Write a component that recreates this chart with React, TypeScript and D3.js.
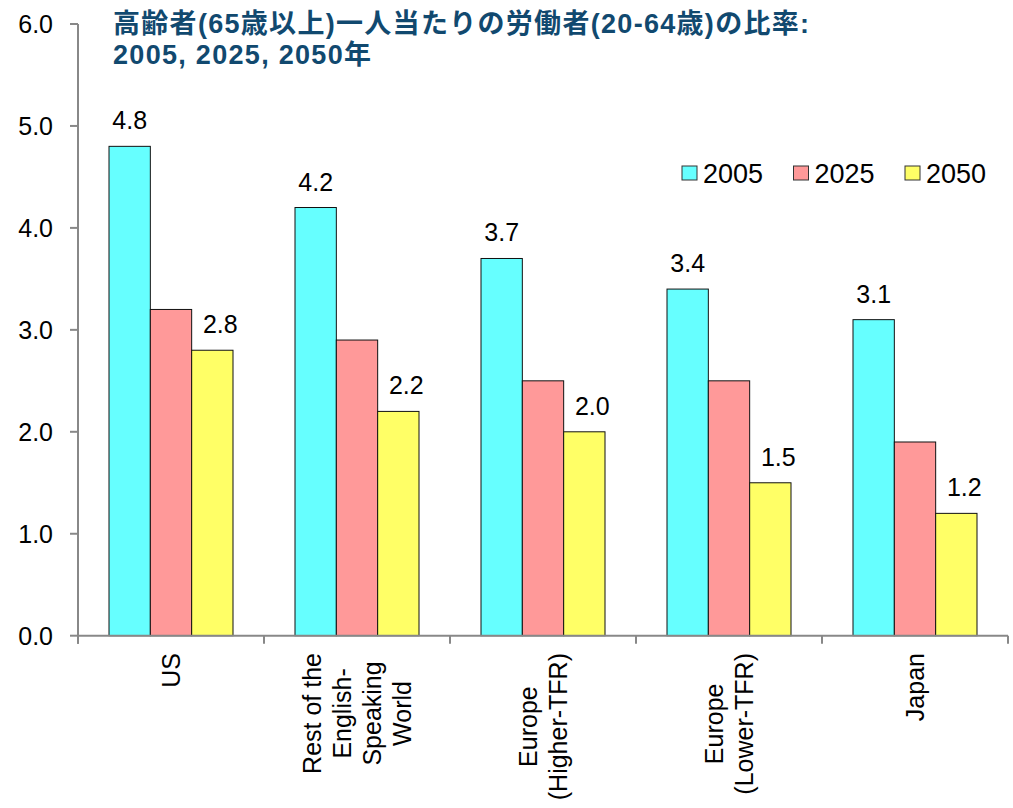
import React, { useEffect, useRef } from 'react';
import * as d3 from 'd3';

const categoryLines: string[][] = [
  ['US'],
  ['Rest of the', 'English-', 'Speaking', 'World'],
  ['Europe', '(Higher-TFR)'],
  ['Europe', '(Lower-TFR)'],
  ['Japan']
];
const seriesNames = ['2005', '2025', '2050'];
const values2005 = [4.8, 4.2, 3.7, 3.4, 3.1];
const values2025 = [3.2, 2.9, 2.5, 2.5, 1.9];
const values2050 = [2.8, 2.2, 2.0, 1.5, 1.2];
const yTicks = [0, 1, 2, 3, 4, 5, 6];
const titleLines = ['高齢者(65歳以上)一人当たりの労働者(20-64歳)の比率:', '2005, 2025, 2050年'];
const colors = ['#66FFFF', '#FF9999', '#FFFF66'];

const WIDTH = 1013;
const HEIGHT = 808;
const FONT = 'Arial, "Liberation Sans", "Noto Sans CJK JP", sans-serif';

export default function App() {
  const svgRef = useRef<SVGSVGElement>(null);

  useEffect(() => {
    const svg = d3.select(svgRef.current);
    svg.selectAll('*').remove();

    const margin = { left: 78, right: 1008, top: 24, bottom: 635.7 };
    const series = [values2005, values2025, values2050];
    const catIdx = categoryLines.map((_, i) => String(i));

    const x0 = d3.scaleBand<string>().domain(catIdx).range([margin.left, margin.right]);
    const x1 = d3.scaleBand<string>()
      .domain(seriesNames)
      .range([0, x0.bandwidth()])
      .paddingInner(0)
      .paddingOuter(0.75);
    const y = d3.scaleLinear().domain([0, 6]).range([margin.bottom, margin.top]);

    // bars
    series.forEach((vals, s) => {
      svg.append('g')
        .selectAll('rect')
        .data(vals)
        .enter()
        .append('rect')
        .attr('x', (d, i) => x0(String(i))! + x1(seriesNames[s])!)
        .attr('y', (d) => y(d))
        .attr('width', x1.bandwidth())
        .attr('height', (d) => y(0) - y(d))
        .attr('fill', colors[s])
        .attr('stroke', '#111')
        .attr('stroke-width', 1);
    });

    // value labels for 2005 and 2050
    const labelSeries = [{ s: 0, dx: 0 }, { s: 2, dx: 8 }];
    labelSeries.forEach(({ s, dx }) => {
      svg.append('g')
        .selectAll('text')
        .data(series[s])
        .enter()
        .append('text')
        .attr('x', (d, i) => x0(String(i))! + x1(seriesNames[s])! + x1.bandwidth() / 2 + dx)
        .attr('y', (d) => y(d) - 17)
        .attr('text-anchor', 'middle')
        .attr('font-family', FONT)
        .attr('font-size', 25)
        .attr('fill', '#000')
        .text((d) => d.toFixed(1));
    });

    const axisColor = '#888';

    // y axis
    svg.append('line')
      .attr('x1', margin.left).attr('x2', margin.left)
      .attr('y1', y(6)).attr('y2', y(0) + 8)
      .attr('stroke', axisColor).attr('stroke-width', 2);
    const yt = svg.append('g');
    yt.selectAll('line')
      .data(yTicks)
      .enter()
      .append('line')
      .attr('x1', margin.left - 8).attr('x2', margin.left)
      .attr('y1', (d) => y(d)).attr('y2', (d) => y(d))
      .attr('stroke', axisColor).attr('stroke-width', 2);
    yt.selectAll('text')
      .data(yTicks)
      .enter()
      .append('text')
      .attr('x', 53)
      .attr('y', (d) => y(d) + 9)
      .attr('text-anchor', 'end')
      .attr('font-family', FONT)
      .attr('font-size', 25)
      .text((d) => d.toFixed(1));

    // x axis
    svg.append('line')
      .attr('x1', margin.left).attr('x2', margin.right)
      .attr('y1', y(0)).attr('y2', y(0))
      .attr('stroke', axisColor).attr('stroke-width', 2);
    const boundaries = catIdx.map((c) => x0(c)!).concat([margin.right]);
    svg.append('g')
      .selectAll('line')
      .data(boundaries)
      .enter()
      .append('line')
      .attr('x1', (d) => d).attr('x2', (d) => d)
      .attr('y1', y(0)).attr('y2', y(0) + 8)
      .attr('stroke', axisColor).attr('stroke-width', 2);

    // category labels, rotated, centered lines
    const lineH = 30;
    categoryLines.forEach((lines, i) => {
      const cx = x0(String(i))! + x0.bandwidth() / 2;
      const g = svg.append('g');
      const texts = g.selectAll('text')
        .data(lines)
        .enter()
        .append('text')
        .attr('text-anchor', 'middle')
        .attr('font-family', FONT)
        .attr('font-size', 25)
        .text((d) => d);
      let maxW = 0;
      texts.each(function () {
        maxW = Math.max(maxW, (this as SVGTextElement).getComputedTextLength());
      });
      const top = 653;
      const midY = top + maxW / 2;
      const blockH = (lines.length - 1) * lineH;
      texts.attr('transform', (d, k) => {
        const baseX = cx - blockH / 2 + k * lineH + 9;
        return `translate(${baseX},${midY}) rotate(-90)`;
      });
    });

    // title
    svg.append('g')
      .selectAll('text')
      .data(titleLines)
      .enter()
      .append('text')
      .attr('x', 113)
      .attr('y', (d, i) => 33 + i * 31)
      .attr('font-family', FONT)
      .attr('font-weight', 'bold')
      .attr('font-size', 27)
      .attr('letter-spacing', 1.3)
      .attr('fill', '#11496F')
      .text((d) => d);

    // legend
    const legendX = [682, 793.5, 905];
    const lg = svg.append('g');
    seriesNames.forEach((name, s) => {
      lg.append('rect')
        .attr('x', legendX[s]).attr('y', 166)
        .attr('width', 15).attr('height', 14)
        .attr('fill', colors[s])
        .attr('stroke', '#333').attr('stroke-width', 1);
      lg.append('text')
        .attr('x', legendX[s] + 21).attr('y', 182.5)
        .attr('font-family', FONT)
        .attr('font-size', 27)
        .text(name);
    });
  }, []);

  return (
    <svg
      ref={svgRef}
      width={WIDTH}
      height={HEIGHT}
      style={{ position: 'absolute', left: 0, top: 0, background: '#fff' }}
    />
  );
}
